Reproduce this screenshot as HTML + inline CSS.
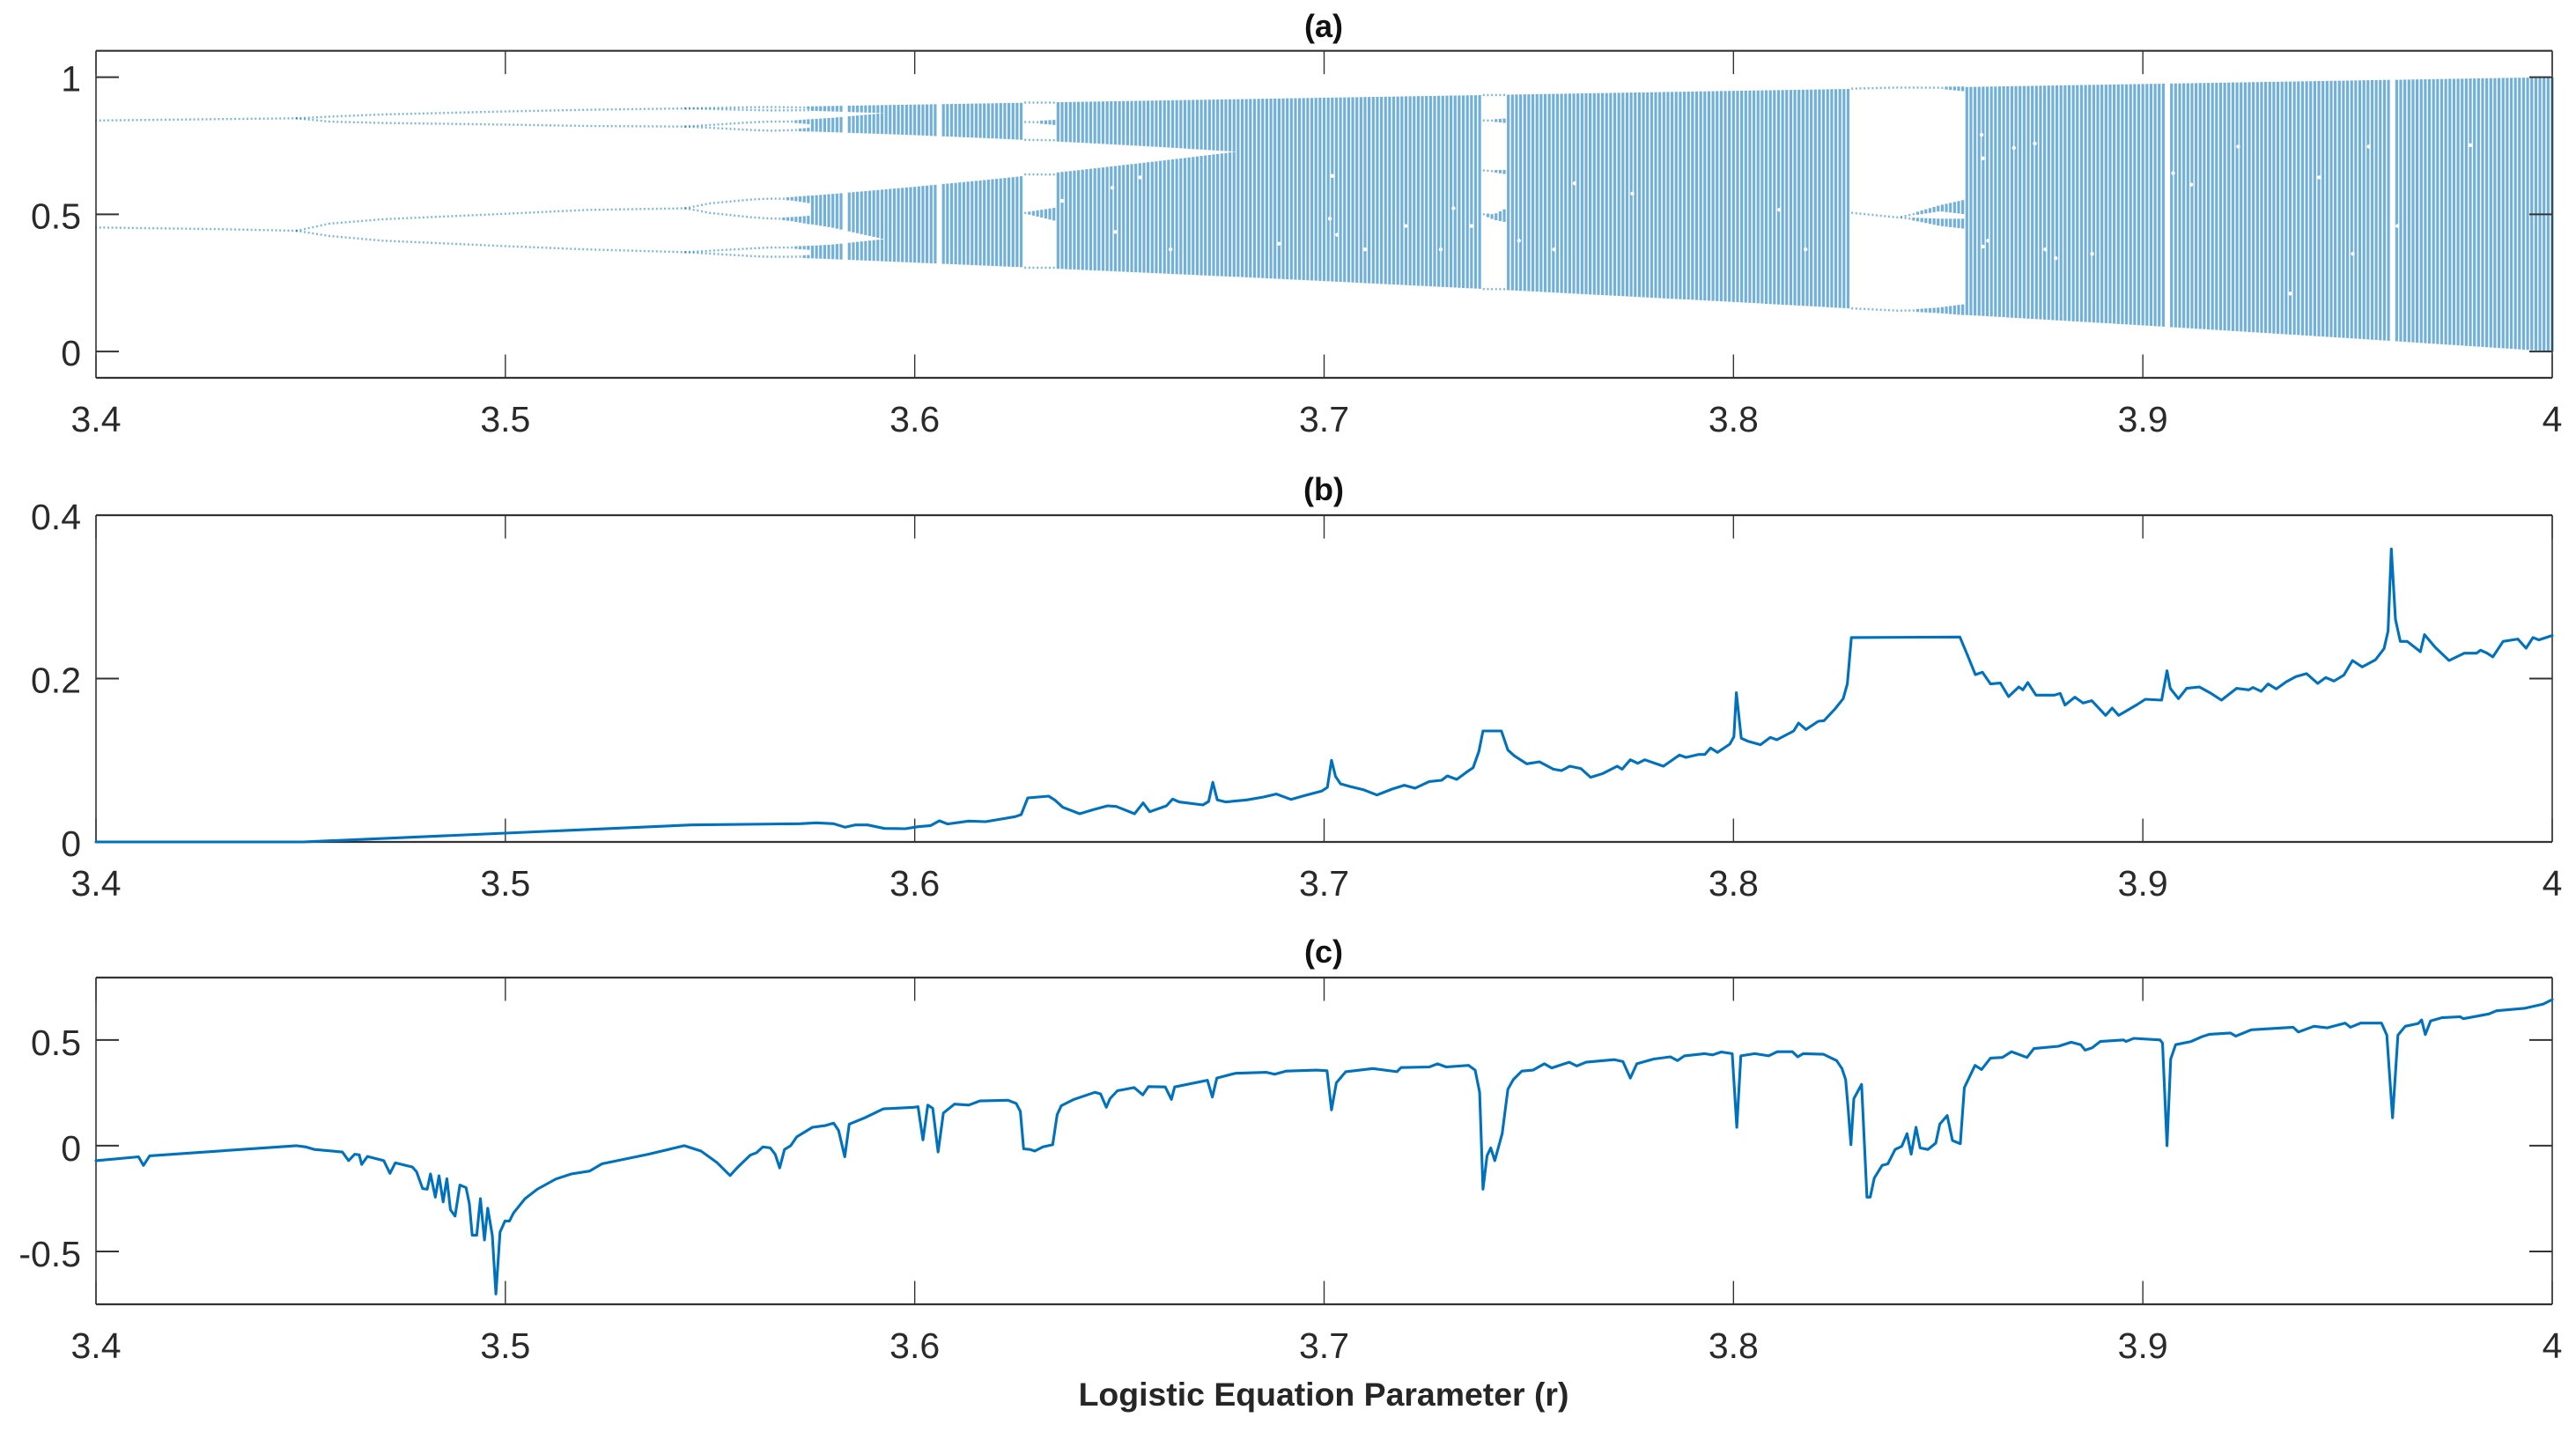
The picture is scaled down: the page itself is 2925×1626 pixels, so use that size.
<!DOCTYPE html>
<html lang="en">
<head>
<meta charset="utf-8">
<title>Logistic equation bifurcation, panels a, b, c</title>
<style>
html,body{margin:0;padding:0;background:#fff;}
svg{display:block;}
text{font-family:"Liberation Sans",Arial,sans-serif;}
</style>
</head>
<body>
<svg id="fig" xmlns="http://www.w3.org/2000/svg" width="2925" height="1626" viewBox="0 0 2925 1626">
  <rect x="0" y="0" width="2925" height="1626" fill="#ffffff"/>
  <text x="1503" y="42" font-size="36" font-weight="bold" text-anchor="middle" fill="#111">(a)</text>
  <text x="1503" y="568" font-size="36" font-weight="bold" text-anchor="middle" fill="#111">(b)</text>
  <text x="1503" y="1093" font-size="36" font-weight="bold" text-anchor="middle" fill="#111">(c)</text>
  <text x="1503" y="1596" font-size="37.4" font-weight="bold" text-anchor="middle" fill="#262626">Logistic Equation Parameter (r)</text>
</svg>
<script>
// ---------- shared axis data ----------
const xTicks = [3.4, 3.5, 3.6, 3.7, 3.8, 3.9, 4];
const xTickText = ["3.4", "3.5", "3.6", "3.7", "3.8", "3.9", "4"];
const yTicksA = [0, 0.5, 1];
const yTickTextA = ["0", "0.5", "1"];
const yTicksB = [0, 0.2, 0.4];
const yTickTextB = ["0", "0.2", "0.4"];
const yTicksC = [-0.5, 0, 0.5];
const yTickTextC = ["-0.5", "0", "0.5"];

// ---------- panel (a): bands read as [r, low, high] knots ----------
const period2Upper = [[3.4,.842,.842],[3.43,.847,.847],[3.449,.85,.85]];
const period2Lower = [[3.4,.452,.452],[3.43,.446,.446],[3.449,.44,.44]];
const period4A = [[3.449,.85,.85],[3.457,.856,.856],[3.47,.864,.864],[3.5,.875,.875],[3.52,.881,.881],[3.544,.886,.886]];
const period4B = [[3.449,.85,.85],[3.457,.838,.838],[3.47,.833,.833],[3.5,.827,.827],[3.52,.822,.822],[3.544,.82,.82]];
const period4C = [[3.449,.44,.44],[3.457,.466,.466],[3.47,.482,.482],[3.5,.502,.502],[3.52,.516,.516],[3.544,.522,.522]];
const period4D = [[3.449,.44,.44],[3.457,.421,.421],[3.47,.404,.404],[3.5,.384,.384],[3.52,.372,.372],[3.544,.362,.362]];
const period8A = [[3.544,.886,.886],[3.56,.8903,.8903],[3.5644,.891,.891]];
const period8B = [[3.544,.886,.886],[3.55,.884,.884],[3.56,.8802,.8802],[3.5644,.879,.879]];
const period8C = [[3.544,.82,.82],[3.56,.8352,.8352],[3.5644,.838,.838]];
const period8D = [[3.544,.82,.82],[3.56,.8075,.8075],[3.5644,.805,.805]];
const period8E = [[3.544,.522,.522],[3.55,.54,.54],[3.56,.5538,.5538],[3.5644,.557,.557]];
const period8F = [[3.544,.522,.522],[3.55,.505,.505],[3.56,.4893,.4893],[3.5644,.485,.485]];
const period8G = [[3.544,.362,.362],[3.56,.3754,.3754],[3.5644,.379,.379]];
const period8H = [[3.544,.362,.362],[3.56,.3478,.3478],[3.5644,.345,.345]];
const octaveA = [[3.5644,.8905,.8915],[3.57,.888,.8925],[3.5745,.883,.8938]];
const octaveB = [[3.5644,.878,.8795],[3.57,.877,.881],[3.5745,.877,.882]];
const octaveC = [[3.5644,.8375,.8385],[3.57,.834,.842],[3.5745,.828,.8471]];
const octaveD = [[3.5644,.804,.805],[3.57,.803,.81],[3.5745,.8016,.816]];
const octaveE = [[3.5644,.5565,.5575],[3.57,.55,.563],[3.5745,.54,.5686]];
const octaveF = [[3.5644,.484,.486],[3.57,.475,.49],[3.5745,.463,.495]];
const octaveG = [[3.5644,.378,.38],[3.57,.375,.383],[3.5745,.37,.3857]];
const octaveH = [[3.5644,.344,.346],[3.57,.342,.349],[3.5745,.3395,.352]];
const quadA = [[3.575,.877,.8938],[3.58,.875,.895],[3.5926,.8687,.8982]];
const quadB = [[3.575,.8016,.8471],[3.58,.7992,.852],[3.5926,.7926,.8689]];
const quadC = [[3.575,.463,.5686],[3.58,.451,.5745],[3.5926,.4093,.5906]];
const quadD = [[3.575,.3395,.3857],[3.58,.3364,.39],[3.5926,.3286,.4098]];
const chaosUpper = [[3.5926,.7926,.8982],[3.6,.7885,.9],[3.62,.776,.905],[3.64,.7616,.91],[3.66,.7453,.915],[3.678,.7287,.9195]];
const chaosLower = [[3.5926,.3286,.5906],[3.6,.324,.6004],[3.62,.3112,.6292],[3.64,.2981,.6609],[3.66,.2847,.6948],[3.678,.2722,.7271]];
const chaosFull = [[3.6785,.2722,.9195],[3.7,.2567,.925],[3.75,.2197,.9375],[3.8,.1805,.95],[3.85,.139,.9625],[3.9,.0951,.975],[3.95,.0488,.9875],[4,0,1]];

const window6A = [[3.6263,.907,.908],[3.6347,.905,.909]];
const window6B = [[3.6263,.836,.837],[3.6347,.825,.845]];
const window6C = [[3.6263,.771,.772],[3.6347,.765,.775]];
const window6D = [[3.6263,.645,.646],[3.6347,.64,.65]];
const window6E = [[3.6263,.505,.506],[3.6347,.475,.525]];
const window6F = [[3.6263,.305,.306],[3.6347,.303,.307]];
const window5A = [[3.7384,.934,.935],[3.7449,.933,.937]];
const window5B = [[3.7384,.842,.843],[3.7449,.832,.85]];
const window5C = [[3.7384,.66,.661],[3.7449,.645,.662]];
const window5D = [[3.7384,.5,.505],[3.7415,.48,.5],[3.7449,.47,.525]];
const window5E = [[3.7384,.227,.228],[3.7449,.225,.229]];
const window3Top = [[3.8284,.957,.959],[3.84,.961,.963],[3.85,.958,.965],[3.8567,.948,.966]];
const window3Mid = [[3.8284,.505,.507],[3.84,.488,.49]];
const window3MidUp = [[3.8405,.488,.49],[3.8504,.511,.533],[3.8567,.5,.554]];
const window3MidLow = [[3.8405,.488,.49],[3.8504,.4577,.484],[3.8567,.447,.484]];
const window3Low = [[3.8284,.157,.158],[3.84,.148,.15],[3.85,.14,.16],[3.8567,.132,.173]];

const chaoticBands = [octaveA,octaveB,octaveC,octaveD,octaveE,octaveF,octaveG,octaveH,quadA,quadB,quadC,quadD,chaosUpper,chaosLower,chaosFull];
const orderedBands = [period2Upper,period2Lower,period4A,period4B,period4C,period4D,period8A,period8B,period8C,period8D,period8E,period8F,period8G,period8H,
  window6A,window6B,window6C,window6D,window6E,window6F,window5A,window5B,window5C,window5D,window5E,window3Top,window3Mid,window3MidUp,window3MidLow,window3Low];

const slitStart = [3.5825,3.6055,3.6263,3.7384,3.8284,3.9056,3.9604];
const slitEnd   = [3.5835,3.6065,3.6347,3.7449,3.8567,3.9066,3.9616];

const speckR = [3.6551,3.6483,3.649,3.636,3.6625,3.689,3.702,3.7014,3.7032,3.71,3.7199,3.736,3.7285,3.7316,3.7476,3.7562,3.7753,3.7612,3.8606,3.8609,3.8685,3.8736,3.8609,3.8622,3.8762,3.8787,3.8876,3.9074,3.9118,3.9233,3.9431,3.9552,3.936,3.98,3.9513,3.8112,3.8176,3.9622];
const speckV = [.6345,.597,.436,.549,.372,.393,.64,.484,.4255,.372,.4577,.4577,.372,.522,.404,.372,.5756,.613,.79,.704,.742,.758,.3826,.404,.372,.34,.356,.65,.608,.747,.6345,.747,.211,.752,.356,.5166,.372,.4577];

// ---------- panel (b) series ----------
const rB = [3.4,3.4506,3.5,3.5453,3.572,3.576,3.5802,3.583,3.5854,3.5885,3.5926,3.5977,3.6008,3.6039,3.606,3.608,3.6132,3.6173,3.6245,3.626,3.6276,3.6327,3.6342,3.6362,3.6403,3.6436,3.6471,3.6492,3.6537,3.6558,3.6574,3.6615,3.663,3.6646,3.6704,3.6718,3.6728,3.6739,3.676,3.6811,3.6852,3.6883,3.6919,3.6953,3.6994,3.7008,3.7018,3.7028,3.704,3.7065,3.7095,3.7129,3.7166,3.7196,3.7222,3.7257,3.7287,3.7301,3.7324,3.7348,3.7364,3.7378,3.7388,3.7433,3.7449,3.7465,3.7495,3.7526,3.756,3.758,3.76,3.7627,3.7651,3.7681,3.7716,3.7728,3.7748,3.7766,3.7783,3.7829,3.7868,3.7884,3.7914,3.793,3.7944,3.7961,3.7991,3.8001,3.8007,3.8019,3.8035,3.8066,3.809,3.8106,3.8147,3.8159,3.8177,3.8207,3.8221,3.8248,3.8268,3.8278,3.8288,3.8553,3.8571,3.8591,3.8608,3.8628,3.8652,3.8672,3.8697,3.8707,3.8719,3.8739,3.8784,3.8798,3.881,3.8834,3.8854,3.8875,3.8909,3.8925,3.8941,3.8986,3.9006,3.9046,3.9059,3.9067,3.9087,3.9107,3.9138,3.9164,3.9192,3.9229,3.9259,3.9269,3.9289,3.9306,3.9326,3.935,3.9374,3.94,3.9427,3.9447,3.9467,3.9491,3.9512,3.9536,3.9568,3.9589,3.9599,3.9607,3.9617,3.9629,3.9646,3.9678,3.9688,3.9714,3.9748,3.9785,3.9815,3.9825,3.9841,3.9855,3.988,3.9916,3.9936,3.9953,3.9967,4];
const valuesB = [0,0,.0108,.0208,.0223,.0234,.0223,.018,.0208,.0208,.0165,.0162,.0187,.0201,.0259,.022,.0255,.0248,.0309,.0334,.0539,.0561,.0514,.0424,.0345,.0395,.0442,.0435,.0345,.0478,.037,.0442,.0525,.0489,.0453,.0496,.073,.0514,.0489,.0514,.055,.0586,.0521,.0568,.0622,.0669,.0999,.0802,.0712,.0676,.064,.0575,.0647,.0694,.0658,.074,.0755,.0809,.0766,.0855,.0909,.1107,.1359,.1359,.1125,.1053,.0956,.0981,.0891,.0873,.0927,.0899,.0791,.0838,.0927,.0891,.1006,.0963,.1006,.0927,.1064,.1035,.1071,.1071,.115,.1096,.1197,.1287,.1826,.1269,.1233,.119,.128,.1251,.1359,.1456,.1377,.1477,.1485,.1628,.1754,.1934,.2502,.2509,.2293,.2049,.2078,.1934,.1945,.1779,.1898,.1862,.1952,.1797,.1797,.1819,.1675,.1772,.17,.1729,.1549,.1639,.1549,.1682,.1747,.1736,.2096,.188,.1754,.188,.1898,.1826,.1736,.188,.1862,.1891,.1844,.1934,.1873,.1959,.2024,.206,.1941,.2013,.197,.2042,.2221,.2142,.2229,.2365,.2581,.3587,.2725,.2455,.2455,.2329,.2538,.2383,.2221,.2311,.2311,.2347,.2311,.2265,.2455,.2484,.2372,.2502,.2473,.2527];

// ---------- panel (c) series ----------
const rC = [3.4,3.4104,3.4116,3.4131,3.4489,3.4512,3.4534,3.4602,3.4617,3.4632,3.4643,3.4649,3.4663,3.4703,3.4718,3.4731,3.4773,3.4783,3.4798,3.4809,3.4817,3.4829,3.4838,3.4848,3.4857,3.4866,3.4877,3.4889,3.4904,3.4912,3.4919,3.493,3.4939,3.4949,3.4957,3.4968,3.4977,3.4987,3.4999,3.501,3.502,3.5048,3.5078,3.5123,3.5161,3.5206,3.5236,3.5349,3.5437,3.5478,3.5516,3.5549,3.5568,3.5598,3.5614,3.5629,3.5647,3.5659,3.567,3.5682,3.5697,3.5712,3.575,3.578,3.5802,3.5814,3.5829,3.584,3.5878,3.5923,3.5998,3.6008,3.602,3.6032,3.6044,3.6057,3.607,3.6097,3.6132,3.6159,3.6228,3.6248,3.6258,3.6266,3.6282,3.6293,3.6313,3.6337,3.6348,3.6358,3.6389,3.644,3.6454,3.6468,3.6477,3.6495,3.6536,3.6557,3.6571,3.6612,3.6627,3.6635,3.6715,3.6727,3.6738,3.6783,3.6859,3.6879,3.6907,3.6982,3.7007,3.7018,3.703,3.7053,3.7119,3.7178,3.7188,3.7257,3.7277,3.7298,3.7353,3.7369,3.738,3.7388,3.7398,3.7407,3.7417,3.7435,3.7449,3.7462,3.7483,3.751,3.7538,3.7556,3.7599,3.7617,3.764,3.7709,3.773,3.7748,3.7764,3.7805,3.7846,3.7863,3.788,3.7929,3.7949,3.797,3.7997,3.8008,3.8018,3.8052,3.8086,3.8107,3.8144,3.8157,3.817,3.822,3.8252,3.8265,3.8274,3.828,3.8287,3.8294,3.8313,3.8322,3.8326,3.8334,3.8344,3.8363,3.8377,3.8395,3.8411,3.8424,3.8434,3.8446,3.8456,3.8475,3.8494,3.8504,3.8522,3.8535,3.8554,3.8564,3.859,3.8606,3.8628,3.8657,3.8679,3.8717,3.8734,3.8794,3.8825,3.8848,3.8859,3.8876,3.8896,3.8953,3.8959,3.8978,3.9042,3.9048,3.9059,3.9068,3.908,3.9118,3.9144,3.9163,3.9214,3.9227,3.9265,3.9367,3.938,3.9418,3.945,3.9494,3.9507,3.9532,3.9583,3.9596,3.961,3.9623,3.9641,3.9673,3.9681,3.969,3.9703,3.973,3.9775,3.9783,3.9845,3.9864,3.9934,3.9978,4];
const valuesC = [-.0706,-.0526,-.0931,-.048,0,-.006,-.018,-.03,-.0706,-.0405,-.0435,-.0886,-.051,-.0706,-.1306,-.0811,-.1006,-.1231,-.2027,-.2057,-.1336,-.2432,-.1426,-.2658,-.1562,-.3033,-.3333,-.1862,-.1982,-.2733,-.4234,-.4234,-.2508,-.4459,-.2958,-.4234,-.7012,-.4084,-.3559,-.3559,-.3183,-.2508,-.2057,-.1577,-.1336,-.1201,-.0856,-.0405,0,-.0255,-.0781,-.1411,-.1006,-.045,-.033,-.006,-.0105,-.0405,-.1051,-.018,0,.042,.0871,.0946,.1066,.0721,-.0526,.1021,.1321,.1742,.1817,.1847,.027,.1922,.1772,-.03,.1547,.1967,.1922,.2117,.2147,.1997,.1622,-.015,-.018,-.0255,-.006,.0045,.1471,.1892,.2192,.2523,.2447,.1817,.2222,.2598,.2748,.2402,.2793,.2778,.2192,.2778,.3093,.2297,.3198,.3423,.3468,.3378,.3529,.3574,.3544,.1697,.2973,.3498,.3649,.3498,.3694,.3724,.3874,.3724,.3799,.3574,.2523,-.2057,-.048,-.0105,-.0706,.0571,.2673,.3123,.3529,.3574,.3874,.3679,.3949,.3769,.3949,.4069,.3979,.3198,.3874,.4099,.4204,.4024,.4249,.4354,.4294,.4429,.4354,.0871,.4249,.4354,.4249,.4444,.4444,.4204,.4354,.4324,.4024,.3649,.3123,.1772,.0045,.2222,.2898,-.0781,-.2432,-.2432,-.1532,-.0931,-.0856,-.018,-.003,.0571,-.0405,.0871,-.0105,-.018,.012,.1021,.1426,.024,.009,.2748,.3799,.3604,.4144,.4174,.4444,.4174,.4595,.47,.4895,.4775,.4519,.4625,.4925,.5,.4925,.5075,.5,.485,0,.4099,.4775,.4925,.515,.527,.533,.518,.548,.5601,.5375,.5646,.5571,.5796,.5601,.5796,.5796,.5225,.1321,.5225,.5646,.5781,.5946,.5255,.5901,.6051,.6096,.6006,.6231,.6381,.6502,.6697,.6907];

// ---------- axis functions ----------
const plotLeft = 109, plotRight = 2898, xMin = 3.4, xMax = 4;
const NS = "http://www.w3.org/2000/svg";
const svg = document.getElementById("fig");
const INK = "#333333";
const BLUE = "#0072BD";
function xPos(r){ return plotLeft + (r - xMin) / (xMax - xMin) * (plotRight - plotLeft); }
function yScale(top, bottom, vMin, vMax){ return function(v){ return bottom - (v - vMin) / (vMax - vMin) * (bottom - top); }; }
const yA = yScale(57.7, 429, -0.096, 1.096);
const yB = yScale(585, 956, 0, 0.4);
const yC = yScale(1110, 1481, -0.75, 0.795);

function make(tag, attrs, parent){
  const el = document.createElementNS(NS, tag);
  for (const k in attrs) el.setAttribute(k, attrs[k]);
  (parent || svg).appendChild(el);
  return el;
}
function drawLine(x1, y1, x2, y2, w, parent){
  return make("line", {x1:x1, y1:y1, x2:x2, y2:y2, stroke:INK, "stroke-width":w}, parent);
}

function drawAxes(panel, top, bottom, yFn, yTicks, yText, xBaseline, yLabelShift){
  const g = make("g", {});
  
  
  const frameTop = drawLine(plotLeft, top, plotRight, top, 2.2, g);
  
  
  const frameBottom = drawLine(plotLeft, bottom, plotRight, bottom, 2.2, g);
  
  
  const frameLeft = drawLine(plotLeft, top, plotLeft, bottom, 1.6, g);
  
  
  const frameRight = drawLine(plotRight, top, plotRight, bottom, 1.6, g);
  
  
  xTicks.forEach(function(t, i){
    const x = xPos(t);
    const a = drawLine(x, top, x, top + 26.5, 1.4, g);
    
    
    const b = drawLine(x, bottom, x, bottom - 26.5, 1.4, g);
    
    
    const lab = make("text", {x:x, y:xBaseline, "font-size":41, "text-anchor":"middle", fill:"#2a2a2a"}, g);
    lab.textContent = xTickText[i];
    
    
  });
  yTicks.forEach(function(t, i){
    const y = yFn(t);
    const a = drawLine(plotLeft, y, plotLeft + 26, y, 2, g);
    
    
    const b = drawLine(plotRight, y, plotRight - 26, y, 2, g);
    
    
    const lab = make("text", {x:92, y:y + yLabelShift, "font-size":41, "text-anchor":"end", fill:"#2a2a2a"}, g);
    lab.textContent = yText[i];
    
    
  });
}

function knotValue(knots, r, c){
  if (r <= knots[0][0]) return knots[0][c];
  for (let i = 0; i < knots.length - 1; i++){
    if (r >= knots[i][0] && r <= knots[i+1][0]){
      const f = (r - knots[i][0]) / (knots[i+1][0] - knots[i][0]);
      return knots[i][c] + f * (knots[i+1][c] - knots[i][c]);
    }
  }
  return knots[knots.length-1][c];
}
function inSlit(r){
  for (let i = 0; i < slitStart.length; i++) if (r > slitStart[i] && r < slitEnd[i]) return true;
  return false;
}
function drawBand(knots, parent, skipSlits){
  const first = Math.ceil((knots[0][0] - xMin) * 1000 - 1e-6);
  const last = Math.floor((knots[knots.length-1][0] - xMin) * 1000 + 1e-6);
  for (let i = first; i <= last; i++){
    const r = xMin + i / 1000;
    if (skipSlits && inSlit(r)) continue;
    const lo = yA(knotValue(knots, r, 1));
    const hi = yA(knotValue(knots, r, 2));
    const thin = (lo - hi) < 3;
    const mid = (lo + hi) / 2;
    const half = thin ? 1.2 : (lo - hi) / 2;
    const x = xPos(r);
    const col = make("line", {x1:x, y1:mid - half, x2:x, y2:mid + half, stroke:BLUE,
      "stroke-width": thin ? 2 : 3.2, "stroke-opacity": thin ? 0.5 : 0.56}, parent);
    
    
  }
}

// ---------- panel (a) ----------
const marksA = make("g", {});


chaoticBands.forEach(function(b){ drawBand(b, marksA, true); });
orderedBands.forEach(function(b){ drawBand(b, marksA, false); });
speckR.forEach(function(r, i){
  const d = make("circle", {cx:xPos(r), cy:yA(speckV[i]), r:2.2, fill:"#ffffff"}, marksA);
  
  
});
drawAxes("a", 57.7, 429, yA, yTicksA, yTickTextA, 490, 16);

// ---------- panels (b), (c) ----------
function drawSeries(rs, vs, yFn, name){
  let d = "";
  rs.forEach(function(r, i){ d += (i ? "L" : "M") + xPos(r).toFixed(1) + " " + yFn(vs[i]).toFixed(1); });
  const p = make("path", {d:d, fill:"none", stroke:BLUE, "stroke-width":3.1, "stroke-linejoin":"round", "stroke-linecap":"round"});
  
  
}
drawAxes("b", 585, 956, yB, yTicksB, yTickTextB, 1017, 16);
drawSeries(rB, valuesB, yB, "panel-b-line");
drawAxes("c", 1110, 1481, yC, yTicksC, yTickTextC, 1542, 17);
drawSeries(rC, valuesC, yC, "panel-c-line");
</script>
</body>
</html>
